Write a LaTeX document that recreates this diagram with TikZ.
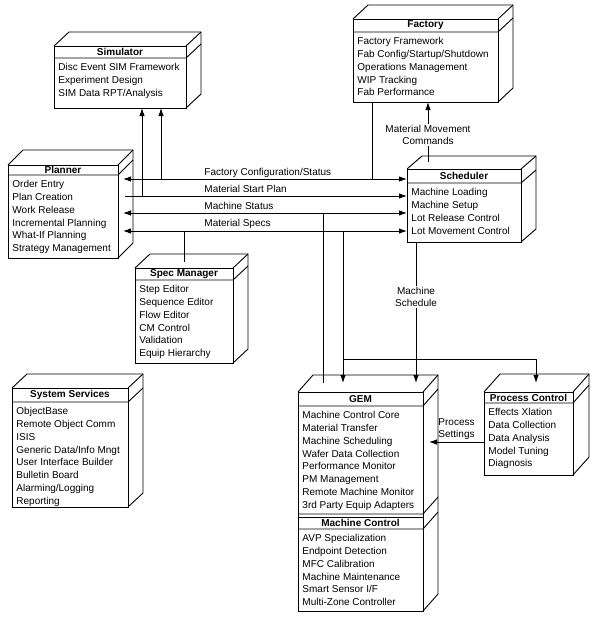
\documentclass[tikz,border=0pt]{standalone}
\usepackage{fontspec}
\setmainfont{Liberation Sans}
\usetikzlibrary{arrows.meta,calc}
\tikzset{
  front/.style={draw, rectangle, inner sep=0pt, outer sep=0pt, anchor=north west},
  ttl/.style={font=\bfseries\fontsize{10}{12}\selectfont, inner sep=0pt},
  itm/.style={font=\fontsize{10}{12.8}\selectfont, align=left, inner sep=0pt, anchor=north west},
  lbl/.style={font=\fontsize{10}{12}\selectfont, inner sep=1pt, align=center},
  conn/.style={line width=0.9pt},
  arr/.style={conn, -{Latex[length=8pt,width=5.5pt]}},
  darr/.style={conn, {Latex[length=8pt,width=5.5pt]}-{Latex[length=8pt,width=5.5pt]}},
}
\def\cdx{15}\def\cdy{14}
\newcommand\boxcube[8]{%
  \node[front, minimum width=#4pt, minimum height=#5pt] (#1) at (#2,#3) {};
  \draw (#1.north west) -- ++(\cdx,-\cdy) -- ($(#1.north east)+(\cdx,-\cdy)$) -- ($(#1.south east)+(\cdx,-\cdy)$) -- (#1.south east);
  \draw (#1.north east) -- ++(\cdx,-\cdy);
  \draw ($(#1.north west)+(0,#6)$) -- ($(#1.north east)+(0,#6)$) -- ++(\cdx,-\cdy);
  \node[ttl] (#1-t) at ($(#1.north)+(0,#6/2)$) {#7};
  \node[itm] (#1-i) at ($(#1.north west)+(4,#6+5)$) {#8};
}
\begin{document}
\begin{tikzpicture}[x=1pt,y=-1pt,line width=0.9pt]
\useasboundingbox (0,0) rectangle (595,618);
\boxcube{sim}{54}{46}{132}{62}{12}{Simulator}{Disc Event SIM Framework\\Experiment Design\\SIM Data RPT/Analysis}
\boxcube{fac}{353}{19}{145}{83}{13}{Factory}{Factory Framework\\Fab Config/Startup/Shutdown\\Operations Management\\WIP Tracking\\Fab Performance}
\def\cdy{15}
\boxcube{pl}{8}{165}{110}{93}{10}{Planner}{Order Entry\\Plan Creation\\Work Release\\Incremental Planning\\What-If Planning\\Strategy Management}
\def\cdy{13}
\boxcube{sch}{407}{169}{114}{73}{14}{Scheduler}{Machine Loading\\Machine Setup\\Lot Release Control\\Lot Movement Control}
\def\cdy{14}
\boxcube{spec}{135}{268}{98}{95}{12}{Spec Manager}{Step Editor\\Sequence Editor\\Flow Editor\\CM Control\\Validation\\Equip Hierarchy}
\boxcube{sys}{12}{388}{116}{119}{14}{System Services}{ObjectBase\\Remote Object Comm\\ISIS\\Generic Data/Info Mngt\\User Interface Builder\\Bulletin Board\\Alarming/Logging\\Reporting}
\def\cdy{17}
\boxcube{gem}{298}{392}{125}{219}{14}{GEM}{Machine Control Core\\Material Transfer\\Machine Scheduling\\Wafer Data Collection\\Performance Monitor\\PM Management\\Remote Machine Monitor\\3rd Party Equip Adapters}
% Machine Control section of GEM
\draw ($(gem.north west)+(0,122)$) -- ($(gem.north east)+(0,122)$) -- ++(\cdx,-\cdy);
\draw ($(gem.north west)+(0,125)$) -- ($(gem.north east)+(0,125)$);
\draw ($(gem.north west)+(0,137)$) -- ($(gem.north east)+(0,137)$) -- ++(\cdx,-\cdy);
\node[ttl] (mc-t) at ($(gem.north)+(0,131)$) {Machine Control};
\node[itm] (mc-i) at ($(gem.north west)+(4,142)$) {AVP Specialization\\Endpoint Detection\\MFC Calibration\\Machine Maintenance\\Smart Sensor I/F\\Multi-Zone Controller};
\def\cdx{16}\def\cdy{18}
\boxcube{pc}{484}{392}{89}{83}{11}{Process Control}{Effects Xlation\\Data Collection\\Data Analysis\\Model Tuning\\Diagnosis}
% bus levels
\coordinate (bFCS) at (0,179);
\coordinate (bMSP) at (0,196);
\coordinate (bMS) at (0,213);
\coordinate (bSPC) at (0,231);
\coordinate (plR) at ($(pl.east)+(5,0)$);
\coordinate (plR2) at ($(pl.east)+(7,0)$);
\draw[darr] (plR |- bFCS) -- (sch.west |- bFCS);
\draw[arr] (plR2 |- bMSP) -- (sch.west |- bMSP);
\draw[darr] (plR |- bMS) -- (sch.west |- bMS);
\draw[darr] (plR |- bSPC) -- (sch.west |- bSPC);
\node[lbl, anchor=base west] (l1) at (203,175.5) {Factory Configuration/Status};
\node[lbl, anchor=base west] (l2) at (203,192.5) {Material Start Plan};
\node[lbl, anchor=base west] (l3) at (203,209.5) {Machine Status};
\node[lbl, anchor=base west] (l4) at (203,226.5) {Material Specs};
% simulator
\coordinate (s1) at ($(sim.south west)+(107,0)$);
\coordinate (s2) at ($(sim.south west)+(88,0)$);
\draw[arr] (s1 |- bFCS) -- (s1);
\draw[arr] (s2 |- bMSP) -- (s2);
% factory
\coordinate (f1) at ($(fac.south west)+(19,0)$);
\draw[conn] (f1) -- (f1 |- bFCS);
\coordinate (mmcT) at ($(fac.south west)+(75,0)$);
\coordinate (mmcB) at ($(sch.north west)+(21,-7)$);
\draw[arr] (mmcB) -- node[lbl, fill=white, pos=0.45] (mmc) {Material Movement\\Commands} (mmcT);
% spec manager
\coordinate (sp1) at ($(spec.north west)+(49,-6)$);
\draw[conn] (sp1) -- (sp1 |- bSPC);
% GEM
\coordinate (g1) at ($(gem.north west)+(25,-9)$);
\coordinate (g2) at ($(gem.north west)+(45,-9)$);
\coordinate (g3) at ($(gem.north west)+(118,-9)$);
\coordinate (pcT) at ($(pc.north west)+(52,-9)$);
\coordinate (jn) at (0,359);
\draw[conn] (g1 |- bMS) -- (g1);
\draw[arr] (g2 |- bSPC) -- (g2);
\draw[arr] (g2 |- jn) -| (pcT);
\draw[arr] (g3 |- sch.south) -- node[lbl, fill=white, pos=0.39] (msch) {Machine\\Schedule} (g3);
% process settings
\coordinate (ps) at (0,442);
\coordinate (gR) at ($(gem.east)+(6,0)$);
\draw[arr] (pc.west |- ps) -- node[lbl, above=1pt] (pset) {Process\\Settings} (gR |- ps);
\end{tikzpicture}
\end{document}
